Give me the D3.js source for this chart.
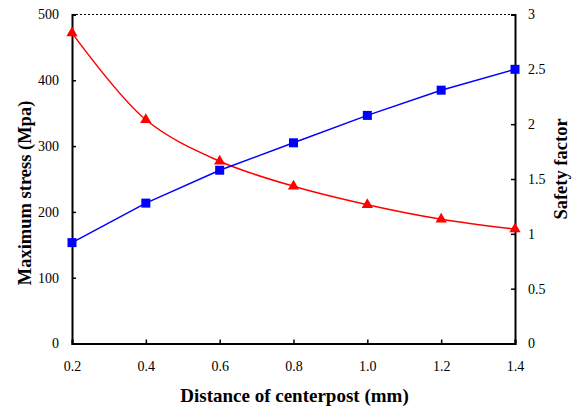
<!DOCTYPE html>
<html><head><meta charset="utf-8">
<script src="https://cdn.jsdelivr.net/npm/d3@7"></script>
<style>body{margin:0;background:#fff}svg{display:block}</style>
</head><body>
<script>
const distances = [0.2, 0.4, 0.6, 0.8, 1.0, 1.2, 1.4];
const maxStress = [472, 340, 277, 239, 211, 189, 174];
const safetyFactor = [0.92, 1.28, 1.58, 1.83, 2.08, 2.31, 2.50];
const xTicks = [0.2, 0.4, 0.6, 0.8, 1.0, 1.2, 1.4];
const yLeftTicks = [0, 100, 200, 300, 400, 500];
const yRightTicks = [0, 0.5, 1, 1.5, 2, 2.5, 3];

const W = 576, H = 408;
const m = {l: 72, r: 61, t: 14.5, b: 64.5};
const svg = d3.select("body").append("svg").attr("width", W).attr("height", H);
const x = d3.scaleLinear().domain([0.2, 1.4]).range([m.l, W - m.r]);
const yL = d3.scaleLinear().domain([0, 500]).range([H - m.b, m.t]);
const yR = d3.scaleLinear().domain([0, 3]).range([H - m.b, m.t]);
const font = "'Liberation Serif', 'Times New Roman', serif";

// top dotted border
svg.append("line").attr("x1", m.l).attr("x2", W - m.r).attr("y1", m.t).attr("y2", m.t)
  .attr("stroke", "#000").attr("stroke-width", 1).attr("stroke-dasharray", "2,2");

const fmt = d => d3.format("")(d);
const gx = svg.append("g").attr("transform", `translate(0,${H - m.b})`)
  .call(d3.axisBottom(x).tickValues(xTicks).tickSize(-4).tickPadding(18).tickFormat(d => d === 1 ? "1.0" : String(d)));
const gl = svg.append("g").attr("transform", `translate(${m.l},0)`)
  .call(d3.axisLeft(yL).tickValues(yLeftTicks).tickSize(-4).tickPadding(13).tickFormat(fmt));
const gr = svg.append("g").attr("transform", `translate(${W - m.r},0)`)
  .call(d3.axisRight(yR).tickValues(yRightTicks).tickSize(-4).tickPadding(13).tickFormat(fmt));
[gx, gl, gr].forEach(g => {
  g.select(".domain").attr("stroke", "#000").attr("stroke-width", 2);
  g.selectAll(".tick line").attr("stroke", "#000").attr("stroke-width", 1.5);
  g.selectAll(".tick text").attr("font-family", font).attr("font-size", 14).attr("fill", "#000");
});
gl.select(".tick:last-of-type line").remove();
gr.select(".tick:last-of-type line").remove();

// stress line (red, smooth)
const lineS = d3.line().x((d, i) => x(distances[i])).y(d => yL(d)).curve(d3.curveCatmullRom);
svg.append("path").datum(maxStress).attr("d", lineS).attr("fill", "none").attr("stroke", "#ff0000").attr("stroke-width", 1.5);
const tri = d3.symbol().type(d3.symbolTriangle).size(55);
svg.selectAll(".tri").data(maxStress).enter().append("path")
  .attr("d", tri).attr("fill", "#ff0000")
  .attr("transform", (d, i) => `translate(${x(distances[i])},${yL(d)})`);

// safety factor line (blue, straight)
const lineF = d3.line().x((d, i) => x(distances[i])).y(d => yR(d));
svg.append("path").datum(safetyFactor).attr("d", lineF).attr("fill", "none").attr("stroke", "#0000ff").attr("stroke-width", 1.5);
svg.selectAll(".sq").data(safetyFactor).enter().append("rect")
  .attr("x", (d, i) => x(distances[i]) - 4.5).attr("y", d => yR(d) - 4.5)
  .attr("width", 9).attr("height", 9).attr("fill", "#0000ff");

// titles
svg.append("text").attr("x", (m.l + W - m.r) / 2 + 1).attr("y", 402).attr("text-anchor", "middle")
  .attr("font-family", font).attr("font-weight", "bold").attr("font-size", 19).text("Distance of centerpost (mm)");
svg.append("text").attr("transform", `translate(31,${(m.t + H - m.b) / 2 + 14}) rotate(-90)`).attr("text-anchor", "middle")
  .attr("font-family", font).attr("font-weight", "bold").attr("font-size", 18.5).text("Maximum stress (Mpa)");
svg.append("text").attr("transform", `translate(567,${(m.t + H - m.b) / 2 - 10}) rotate(-90)`).attr("text-anchor", "middle")
  .attr("font-family", font).attr("font-weight", "bold").attr("font-size", 18.5).text("Safety factor");
</script>
</body></html>
